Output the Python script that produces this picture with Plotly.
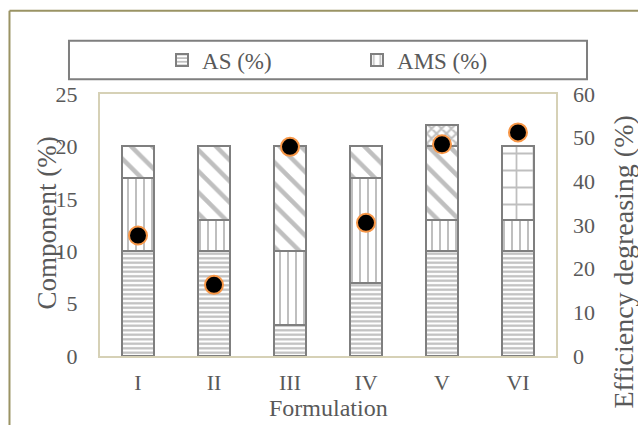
import plotly.graph_objects as go

# Formulations on the category axis
formulations = ["I", "II", "III", "IV", "V", "VI"]

# Stacked composition (%), bottom to top
as_pct = [10, 10, 3, 7, 10, 10]
ams_pct = [7, 3, 7, 10, 3, 3]
diag_pct = [3, 7, 10, 3, 7, None]
check_pct = [None, None, None, None, 2, None]
grid_pct = [None, None, None, None, None, 7]

# Degreasing efficiency (%), right axis
efficiency = [27.6, 16.3, 47.9, 30.5, 48.5, 51.2]

left_ticks = [0, 5, 10, 15, 20, 25]
right_ticks = [0, 10, 20, 30, 40, 50, 60]

GRAY = "#7f7f7f"
TEXT = "#595959"
FONT = "Liberation Serif"
FRAME = "#d6d1b6"
OUTER = "#9a9364"


def segment(name, values, shape, size, solidity, legend):
    return go.Bar(
        x=formulations,
        y=values,
        name=name,
        showlegend=legend,
        yaxis="y",
        marker=dict(
            color="white",
            line=dict(color=GRAY, width=2),
            pattern=dict(shape=shape, fgcolor=GRAY, bgcolor="white",
                         size=size, solidity=solidity, fillmode="overlay"),
        ),
    )


fig = go.Figure()
fig.add_trace(segment("AS (%)", as_pct, "-", 4.5, 0.5, True))
fig.add_trace(segment("AMS (%)", ams_pct, "|", 8, 0.25, True))
fig.add_trace(segment("C3 (%)", diag_pct, "\\", 15, 0.3, False))
fig.add_trace(segment("C4 (%)", check_pct, "x", 7, 0.5, False))
fig.add_trace(segment("C5 (%)", grid_pct, "+", 17, 0.2, False))

fig.add_trace(go.Scatter(
    x=formulations, y=efficiency, mode="markers", yaxis="y2",
    name="Efficiency degreasing (%)", showlegend=False,
    marker=dict(size=18, color="black", line=dict(color="#f79646", width=2)),
))

tick_font = dict(family=FONT, size=22, color=TEXT)

fig.update_layout(
    width=638, height=425,
    margin=dict(l=100, r=82, t=94, b=69),
    paper_bgcolor="white", plot_bgcolor="white",
    barmode="stack", bargap=0.586,
    xaxis=dict(type="category", showline=True, linecolor=FRAME, linewidth=2,
               mirror=True, ticks="", tickfont=tick_font, ticklabelstandoff=6),
    yaxis=dict(range=[0, 25], tickvals=left_ticks, showgrid=False, zeroline=False,
               showline=True, linecolor=FRAME, linewidth=2, mirror=True,
               ticks="", tickfont=tick_font, ticklabelstandoff=16),
    yaxis2=dict(range=[0, 60], tickvals=right_ticks, overlaying="y", side="right",
                showgrid=False, zeroline=False, showline=False, ticks="",
                tickfont=tick_font, ticklabelstandoff=16),
    legend=dict(orientation="h", x=0.136, y=1.1298, xanchor="left", yanchor="middle",
                bgcolor="rgba(0,0,0,0)", borderwidth=0, entrywidth=150,
                font=dict(family=FONT, size=23, color=TEXT), traceorder="normal"),
    showlegend=True,
    shapes=[
        # legend frame
        dict(type="rect", xref="paper", yref="paper", x0=-0.068, x1=1.068,
             y0=1.056, y1=1.2034, line=dict(color=GRAY, width=2), fillcolor="rgba(0,0,0,0)"),
        # outer chart border (top and left)
        dict(type="line", xref="paper", yref="paper", x0=-0.1985, x1=1.2,
             y0=1.318, y1=1.318, line=dict(color=OUTER, width=2)),
        dict(type="line", xref="paper", yref="paper", x0=-0.1985, x1=-0.1985,
             y0=1.318, y1=-0.3, line=dict(color=OUTER, width=2)),
    ],
    annotations=[
        dict(text="Formulation", x=0.5, y=-0.198, xref="paper", yref="paper",
             showarrow=False, xanchor="center", yanchor="middle",
             font=dict(family=FONT, size=24, color=TEXT)),
        dict(text="Component (%)", x=-0.116, y=0.506, xref="paper", yref="paper",
             showarrow=False, textangle=-90, xanchor="center", yanchor="middle",
             font=dict(family=FONT, size=27, color=TEXT)),
        dict(text="Efficiency degreasing (%)", x=1.147, y=0.357, xref="paper", yref="paper",
             showarrow=False, textangle=-90, xanchor="center", yanchor="middle",
             font=dict(family=FONT, size=28, color=TEXT)),
    ],
)

fig.write_html("out.html")
